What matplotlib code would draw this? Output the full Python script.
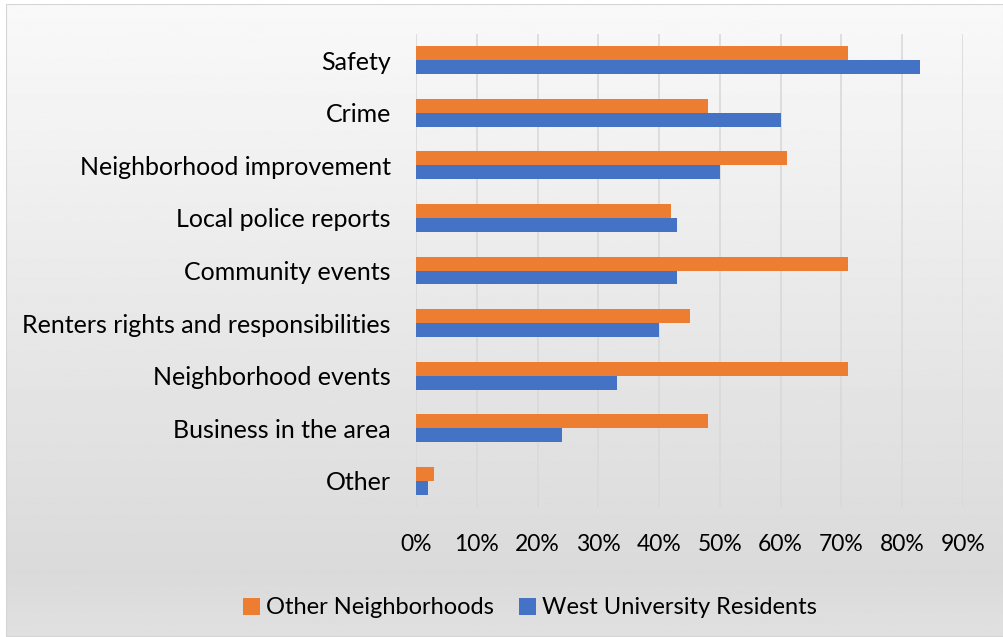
import numpy as np
import matplotlib
matplotlib.use("Agg")
import matplotlib.pyplot as plt
from matplotlib.patches import Patch

plt.rcParams['font.family'] = ['Lato', 'DejaVu Sans']

categories = ["Safety", "Crime", "Neighborhood improvement", "Local police reports",
              "Community events", "Renters rights and responsibilities",
              "Neighborhood events", "Business in the area", "Other"]
other_neighborhoods = [71, 48, 61, 42, 71, 45, 71, 48, 3]
west_university = [83, 60, 50, 43, 43, 40, 33, 24, 2]
x_ticks = [0, 10, 20, 30, 40, 50, 60, 70, 80, 90]

ORANGE = "#ED7D31"
BLUE = "#4472C4"

W, H = 1004, 637
fig = plt.figure(figsize=(W / 100, H / 100), dpi=100)
fig.patch.set_facecolor("white")

# soft vertical gradient panel behind the chart
bg = fig.add_axes([6 / W, 0, 1 - 6 / W, 1 - 4 / H], zorder=-10)
rows = np.linspace(0, 1, 400)
top_c, mid_c, bot_c = 0.976, 0.855, 0.88
vals = np.where(rows < 0.9, top_c + (mid_c - top_c) * rows / 0.9,
                mid_c + (bot_c - mid_c) * (rows - 0.9) / 0.1)
img = np.repeat(vals[:, None], 2, axis=1)
bg.imshow(img, cmap="gray", vmin=0, vmax=1, aspect="auto", extent=[0, 1, 1, 0])
bg.set_xlim(0, 1)
bg.set_ylim(1, 0)
bg.set_axis_off()
bg.add_patch(plt.Rectangle((0, 0), 1, 1, transform=bg.transAxes, fill=False,
                           edgecolor="#d4d4d4", linewidth=1.5))

ax = fig.add_axes([416 / W, 1 - 507.3 / H, (963 - 416) / W, (507.3 - 33.7) / H])
ax.set_facecolor("none")

y = np.arange(len(categories))
h = 0.265
ax.barh(y - h / 2, other_neighborhoods, height=h, color=ORANGE, zorder=3,
        label="Other Neighborhoods")
ax.barh(y + h / 2, west_university, height=h, color=BLUE, zorder=3,
        label="West University Residents")

ax.set_xlim(0, 90)
ax.set_ylim(len(categories) - 0.5, -0.5)
ax.set_xticks(x_ticks)
ax.set_xticklabels([f"{t}%" for t in x_ticks], fontsize=16.5)
ax.set_yticks(y)
ax.set_yticklabels(categories, fontsize=18)
ax.tick_params(axis="both", length=0, colors="#000000")
ax.tick_params(axis="y", pad=18)
ax.tick_params(axis="x", pad=19)
ax.grid(axis="x", color="#d9d9d9", linewidth=1.2, zorder=0)
for s in ax.spines.values():
    s.set_visible(False)

handles = [Patch(facecolor=ORANGE, label="Other Neighborhoods"),
           Patch(facecolor=BLUE, label="West University Residents")]
fig.legend(handles=handles, loc="center", bbox_to_anchor=(530 / W, 1 - 608 / H),
           ncol=2, frameon=False, fontsize=17, handlelength=0.7, handleheight=0.7,
           handletextpad=0.25, columnspacing=1.1)

fig.savefig("out.png", dpi=100)
